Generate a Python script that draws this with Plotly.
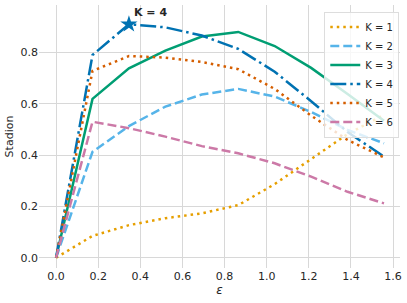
import plotly.graph_objects as go

eps = [0.0, 0.173, 0.346, 0.519, 0.692, 0.865, 1.038, 1.211, 1.384, 1.557]

k1 = [0.0, 0.085, 0.127, 0.154, 0.173, 0.205, 0.287, 0.384, 0.482, 0.557]
k2 = [0.0, 0.413, 0.513, 0.589, 0.636, 0.658, 0.628, 0.568, 0.498, 0.446]
k3 = [0.0, 0.619, 0.738, 0.807, 0.862, 0.880, 0.825, 0.740, 0.638, 0.534]
k4 = [0.0, 0.790, 0.910, 0.898, 0.866, 0.814, 0.725, 0.610, 0.490, 0.394]
k5 = [0.0, 0.728, 0.786, 0.780, 0.763, 0.735, 0.658, 0.554, 0.459, 0.391]
k6 = [0.0, 0.530, 0.505, 0.472, 0.435, 0.407, 0.368, 0.316, 0.257, 0.212]

names = ["K = 1", "K = 2", "K = 3", "K = 4", "K = 5", "K = 6"]
series = [k1, k2, k3, k4, k5, k6]
colors = ["#E69F00", "#56B4E9", "#009E73", "#0072B2", "#D55E00", "#CC79A7"]
dashes = ["2.5px,4px", "9px,4px", "solid", "16px,4px,2.5px,4px", "2.5px,4px", "9px,4px"]

best_idx = 2
best_label = "K = 4"

fig = go.Figure()
for name, ys, c, d in zip(names, series, colors, dashes):
    fig.add_trace(go.Scatter(x=eps, y=ys, mode="lines", name=name,
                             line=dict(color=c, width=2.5, dash=d)))

fig.add_trace(go.Scatter(x=[eps[best_idx]], y=[k4[best_idx]], mode="markers",
                         marker=dict(symbol="star", size=13, color="#0072B2"),
                         showlegend=False, hoverinfo="skip"))
fig.add_annotation(x=eps[best_idx], y=k4[best_idx], text="<b>" + best_label + "</b>",
                   showarrow=False, xshift=22, yshift=12,
                   font=dict(family="DejaVu Sans", size=11, color="#262626"))

axis_common = dict(showgrid=True, gridcolor="#d8d8d8", gridwidth=1, zeroline=False,
                   showline=False, ticks="", automargin=False,
                   tickfont=dict(family="DejaVu Sans", size=11, color="#262626"))

fig.update_layout(
    width=407, height=303,
    margin=dict(l=39, r=7, t=5, b=35, autoexpand=False),
    paper_bgcolor="white", plot_bgcolor="white",
    font=dict(family="DejaVu Sans", size=11, color="#262626"),
    xaxis=dict(range=[-0.081, 1.633], tickvals=[0, 0.2, 0.4, 0.6, 0.8, 1.0, 1.2, 1.4, 1.6],
               ticktext=["0.0", "0.2", "0.4", "0.6", "0.8", "1.0", "1.2", "1.4", "1.6"],
               title=dict(text="<i>ε</i>", standoff=1, font=dict(size=12)), **axis_common),
    yaxis=dict(range=[-0.040, 0.985], tickvals=[0, 0.2, 0.4, 0.6, 0.8],
               ticktext=["0.0", "0.2", "0.4", "0.6", "0.8"],
               title=dict(text="Stadion", standoff=4, font=dict(size=11)), **axis_common),
    legend=dict(x=0.998, xanchor="right", y=0.975, yanchor="top",
                bgcolor="rgba(255,255,255,0.8)", bordercolor="#dddddd", borderwidth=1,
                font=dict(family="DejaVu Sans", size=10, color="#262626"),
                itemwidth=30, tracegroupgap=0),
    showlegend=True,
)

fig.write_html("out.html", config={"displayModeBar": False},
               post_script="document.body.style.margin='0';document.body.style.padding='0';")
